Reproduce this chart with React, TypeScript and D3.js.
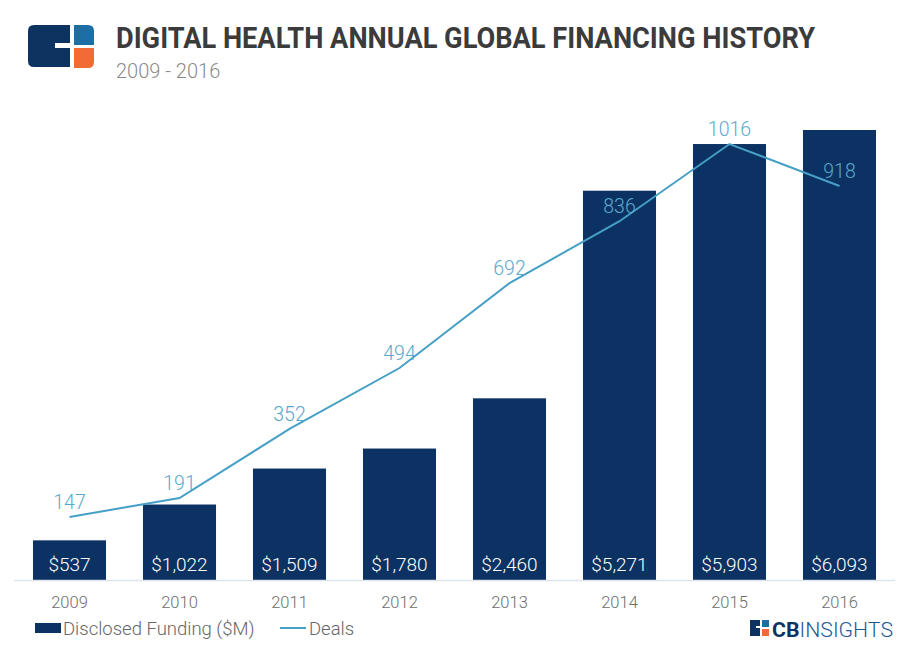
import React from "react";
import * as d3 from "d3";

const years = ["2009", "2010", "2011", "2012", "2013", "2014", "2015", "2016"];
const funding = [537, 1022, 1509, 1780, 2460, 5271, 5903, 6093];
const deals = [147, 191, 352, 494, 692, 836, 1016, 918];

const W = 909;
const H = 659;
const BASE = 580;

export default function App() {
  const x = d3.scaleBand<string>().domain(years).range([14.5, 894.5]).paddingInner(0.336).paddingOuter(0.168);
  const yBar = d3.scaleLinear().domain([0, 6093]).range([BASE, 130]);
  const yLine = d3.scaleLinear().domain([0, 1016]).range([BASE, 144]);
  const cx = (y: string) => (x(y) as number) + x.bandwidth() / 2;
  const line = d3
    .line<number>()
    .x((_, i) => cx(years[i]))
    .y((d) => yLine(d));
  const fmt = d3.format(",");
  const font = "Roboto, 'Open Sans', sans-serif";
  const navy = "#0b3262";
  const lineCol = "#469fc6";

  return (
    <svg width={W} height={H} style={{ position: "absolute", left: 0, top: 0, background: "#fff" }} fontFamily={font}>
      <rect width={W} height={H} fill="#fff" />
      {/* logo */}
      <g>
        <path d="M34,25 H70 V43 H55 V48 H70 V67 H34 Q28,67 28,61 V31 Q28,25 34,25 Z" fill="#0d3461" />
        <path d="M74,25 H88 Q94,25 94,31 V45 H74 Z" fill="#1e6ea6" />
        <path d="M74,48 H94 V62 Q94,68 88,68 H74 Z" fill="#f26b35" />
      </g>
      <text x={116} y={48} fontSize={29} fontWeight={700} fill="#3b3b3b" textLength={699} lengthAdjust="spacingAndGlyphs">
        DIGITAL HEALTH ANNUAL GLOBAL FINANCING HISTORY
      </text>
      <text x={116} y={78} fontSize={20} fontWeight={300} fill="#8a8a8a">
        2009 - 2016
      </text>

      {/* bars */}
      {years.map((yr, i) => (
        <rect key={yr} x={x(yr)} y={yBar(funding[i])} width={x.bandwidth()} height={BASE - yBar(funding[i])} fill={navy} />
      ))}
      {years.map((yr, i) => (
        <text key={"b" + yr} x={cx(yr)} y={571} textAnchor="middle" fontSize={19} fontWeight={300} fill="#fff">
          ${fmt(funding[i])}
        </text>
      ))}

      {/* axis */}
      <line x1={14} x2={895} y1={BASE + 0.5} y2={BASE + 0.5} stroke="#dde3ea" strokeWidth={1.5} />
      {years.map((yr) => (
        <text key={"x" + yr} x={cx(yr)} y={608} textAnchor="middle" fontSize={16.5} fontWeight={300} fill="#6e6e6e">
          {yr}
        </text>
      ))}

      {/* line */}
      <path d={line(deals) || ""} fill="none" stroke={lineCol} strokeWidth={2} />
      {years.map((yr, i) => (
        <text key={"l" + yr} x={cx(yr)} y={yLine(deals[i]) - 8} textAnchor="middle" fontSize={19.5} fontWeight={300} fill="#5aa9cd">
          {deals[i]}
        </text>
      ))}

      {/* legend */}
      <rect x={35} y={623} width={26} height={10} fill={navy} />
      <text x={63} y={635} fontSize={18.5} fontWeight={300} fill="#666">
        Disclosed Funding ($M)
      </text>
      <line x1={280} x2={306} y1={628} y2={628} stroke={lineCol} strokeWidth={2} />
      <text x={309} y={635} fontSize={18.5} fontWeight={300} fill="#666">
        Deals
      </text>

      {/* CB Insights logo */}
      <g>
        <path d="M750,620 H760 V626 H756 V628 H760 V636 H750 Z" fill="#0d3461" />
        <path d="M762,620 H769 V627 H762 Z" fill="#1e6ea6" />
        <path d="M762,629 H769 V636 H762 Z" fill="#f26b35" />
        <text x={772} y={637} fontSize={21} fill="#0d3461" textLength={121} lengthAdjust="spacingAndGlyphs">
          <tspan fontWeight={700}>CB</tspan>
          <tspan fontWeight={300} fill="#1d5a92">INSIGHTS</tspan>
        </text>
      </g>
    </svg>
  );
}
